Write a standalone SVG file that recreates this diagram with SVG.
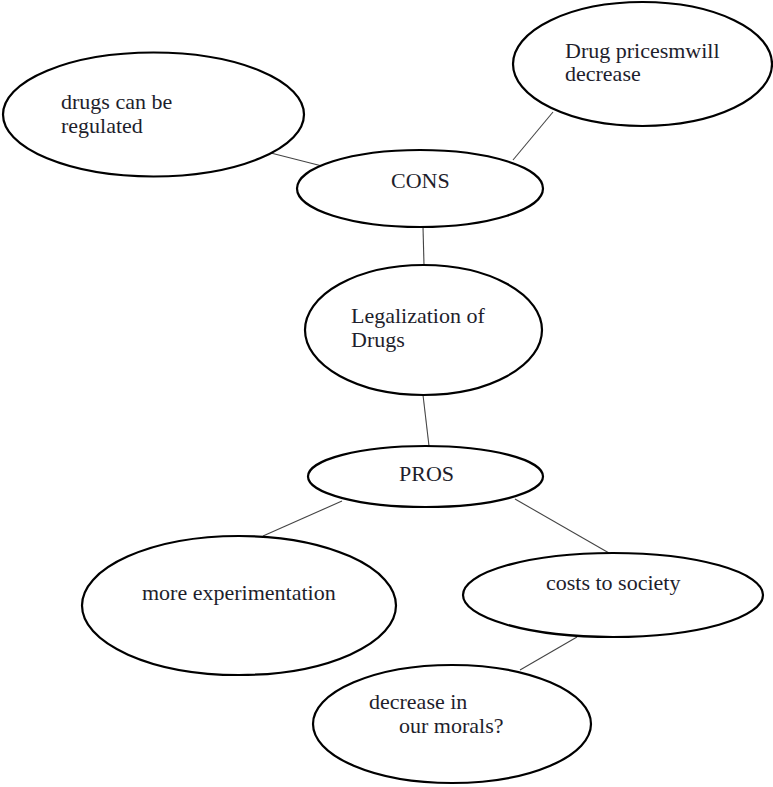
<svg xmlns="http://www.w3.org/2000/svg" width="773" height="787" viewBox="0 0 773 787">
<style>
.n{fill:#fff;stroke:#000;stroke-width:2.2}
.t{font-family:"Liberation Serif","Times New Roman",serif;font-size:22px;fill:#1e1e2c}
.c line{stroke:#444;stroke-width:1.1}
</style>
<rect width="773" height="787" fill="#fff"/>
<g class="c" id="connectors">
<line x1="263" y1="151" x2="322" y2="166"/>
<line x1="553" y1="112" x2="513" y2="160"/>
<line x1="423" y1="227" x2="424" y2="265"/>
<line x1="423" y1="395" x2="429" y2="446"/>
<line x1="342" y1="501" x2="263" y2="536"/>
<line x1="515" y1="499" x2="609" y2="553"/>
<line x1="577" y1="637" x2="520" y2="670"/>
</g>
<g id="regulated"><ellipse class="n" cx="153.5" cy="114.5" rx="150.5" ry="62"/><text class="t" x="61" y="109">drugs can be</text><text class="t" x="61" y="133">regulated</text></g>
<g id="prices"><ellipse class="n" cx="642.5" cy="64" rx="129.5" ry="62"/><text class="t" x="565" y="58">Drug pricesmwill</text><text class="t" x="565" y="81">decrease</text></g>
<g id="cons"><ellipse class="n" cx="420" cy="188.5" rx="123" ry="38.5"/><text class="t" x="391" y="188">CONS</text></g>
<g id="legal"><ellipse class="n" cx="423.5" cy="330" rx="118.5" ry="65"/><text class="t" x="351" y="323">Legalization of</text><text class="t" x="351" y="347">Drugs</text></g>
<g id="pros"><ellipse class="n" cx="425.5" cy="476.5" rx="117.5" ry="30.5"/><text class="t" x="399" y="481">PROS</text></g>
<g id="experimentation"><ellipse class="n" cx="239" cy="605.5" rx="157" ry="69.5"/><text class="t" x="142" y="600">more experimentation</text></g>
<g id="costs"><ellipse class="n" cx="613" cy="595" rx="150" ry="42"/><text class="t" x="546" y="590">costs to society</text></g>
<g id="morals"><ellipse class="n" cx="452" cy="724" rx="139" ry="59"/><text class="t" x="369" y="709">decrease in</text><text class="t" x="399" y="733">our morals?</text></g>
</svg>
